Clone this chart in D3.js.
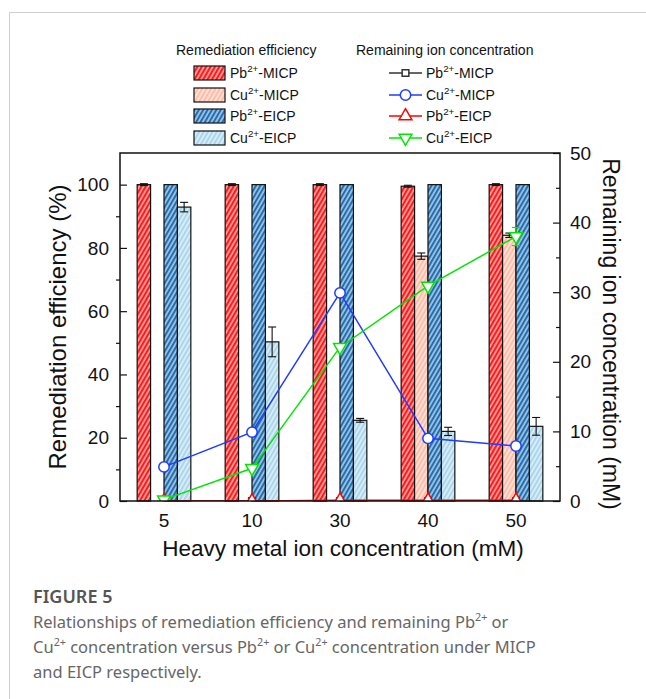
<!DOCTYPE html>
<html>
<head>
<meta charset="utf-8">
<script src="https://cdn.jsdelivr.net/npm/d3@7"></script>
<style>
  body { margin: 0; background: #fff; }
  svg { display: block; }
</style>
</head>
<body>
<svg id="chart" width="646" height="699"></svg>
<script>
// data
const categories = ["5", "10", "30", "40", "50"];
const barKeys = ["Pb-MICP", "Cu-MICP", "Pb-EICP", "Cu-EICP"];

// remediation efficiency (%), left axis
const effPbMICP = [100, 100, 100, 99.5, 100];
const effCuMICP = [null, null, null, 77.4, 84.0];
const effPbEICP = [100, 100, 100, 100, 100];
const effCuEICP = [92.9, 50.3, 25.5, 22.0, 23.6];
const errPbMICP = [0.3, 0.3, 0.3, 0.3, 0.3];
const errCuMICP = [0, 0, 0, 1.0, 0.7];
const errPbEICP = [0, 0, 0, 0, 0];
const errCuEICP = [1.5, 4.7, 0.6, 1.3, 2.8];

// remaining ion concentration (mM), right axis
const remPbMICP = [0, 0, 0, 0, 0];
const remCuMICP = [4.9, 9.9, 29.9, 9.0, 7.9];
const remPbEICP = [0, 0, 0.1, 0.1, 0.1];
const remCuEICP = [0.2, 4.7, 22.1, 30.9, 38.0];
const errRemCuEICP = [0, 0, 0, 0, 1.3];

const leftTicks = [0, 20, 40, 60, 80, 100];
const rightTicks = [0, 10, 20, 30, 40, 50];

const svg = d3.select("#chart");
const defs = svg.append("defs");

const plot = { left: 120, right: 560, top: 153, bottom: 501 };

const x = d3.scaleBand().domain(categories)
      .range([plot.left, plot.right])
      .paddingInner(0.39).paddingOuter(0.195);
const x1 = d3.scaleBand().domain(barKeys).range([0, x.bandwidth()]);
const yL = d3.scaleLinear().domain([0, 110]).range([plot.bottom, plot.top]);
const yR = d3.scaleLinear().domain([0, 50]).range([plot.bottom, plot.top]);
const xc = (c) => x(c) + x.bandwidth() / 2;

// hatch fills
const barColors = {
      "Pb-MICP": "#ff1a1a",
      "Cu-MICP": "#ffbca6",
      "Pb-EICP": "#1f6fb2",
      "Cu-EICP": "#a9d6ec"
};
function hatch(id, color) {
      const p = defs.append("pattern")
            .attr("id", id)
            .attr("patternUnits", "userSpaceOnUse")
            .attr("width", 3.8).attr("height", 10)
            .attr("patternTransform", "rotate(30)");
      p.append("rect").attr("width", 3.8).attr("height", 10).attr("fill", color);
      p.append("line").attr("x1", 1).attr("y1", 0).attr("x2", 1).attr("y2", 10)
            .attr("stroke", "#fff").attr("stroke-width", 1.1).attr("opacity", 0.95);
}
barKeys.forEach((k, i) => hatch("h" + i, barColors[k]));

const font = "Liberation Sans, Arial, sans-serif";

// card border
svg.append("path")
      .attr("d", "M646,12.5 H9.5 V699")
      .attr("fill", "none").attr("stroke", "#cfcfcf").attr("stroke-width", 1);

// bars
const barSeries = [
      { key: "Pb-MICP", vals: effPbMICP, errs: errPbMICP },
      { key: "Cu-MICP", vals: effCuMICP, errs: errCuMICP },
      { key: "Pb-EICP", vals: effPbEICP, errs: errPbEICP },
      { key: "Cu-EICP", vals: effCuEICP, errs: errCuEICP }
];
const barRows = [];
barSeries.forEach((s, si) => {
      categories.forEach((c, ci) => {
            if (s.vals[ci] != null) barRows.push({ c, key: s.key, si, v: s.vals[ci], e: s.errs[ci] });
      });
});

const gBars = svg.append("g");
gBars.selectAll("rect")
      .data(barRows)
      .enter()
      .append("rect")
      .attr("x", (d) => x(d.c) + x1(d.key))
      .attr("width", x1.bandwidth())
      .attr("y", (d) => yL(d.v))
      .attr("height", (d) => yL(0) - yL(d.v))
      .attr("fill", (d) => `url(#h${d.si})`)
      .attr("stroke", "#111")
      .attr("stroke-width", 1.2);

const gErr = svg.append("g").attr("stroke", "#111").attr("stroke-width", 1.1);
barRows.filter((d) => d.e > 0).forEach((d) => {
      const cx = x(d.c) + x1(d.key) + x1.bandwidth() / 2;
      const y1 = yL(d.v + d.e), y2 = yL(d.v - d.e);
      gErr.append("line").attr("x1", cx).attr("x2", cx).attr("y1", y1).attr("y2", y2);
      gErr.append("line").attr("x1", cx - 4).attr("x2", cx + 4).attr("y1", y1).attr("y2", y1);
      gErr.append("line").attr("x1", cx - 4).attr("x2", cx + 4).attr("y1", y2).attr("y2", y2);
});

// lines
defs.append("clipPath").attr("id", "plotClip")
      .append("rect")
      .attr("x", plot.left).attr("y", plot.top)
      .attr("width", plot.right - plot.left).attr("height", plot.bottom - plot.top);

const lineSeries = [
      { name: "Pb-MICP", vals: remPbMICP, color: "#333333", sym: d3.symbolSquare, size: 45, rot: 0 },
      { name: "Cu-MICP", vals: remCuMICP, color: "#1f3cff", sym: d3.symbolCircle, size: 85, rot: 0 },
      { name: "Pb-EICP", vals: remPbEICP, color: "#ff0000", sym: d3.symbolTriangle, size: 70, rot: 0 },
      { name: "Cu-EICP", vals: remCuEICP, color: "#00e600", sym: d3.symbolTriangle, size: 70, rot: 180 }
];

const gLines = svg.append("g").attr("clip-path", "url(#plotClip)");
const line = d3.line().x((d, i) => xc(categories[i])).y((d) => yR(d));

lineSeries.forEach((s) => {
      gLines.append("path")
            .datum(s.vals)
            .attr("d", line)
            .attr("fill", "none")
            .attr("stroke", s.color)
            .attr("stroke-width", 1.5);
});

// error bars on Cu-EICP remaining concentration
categories.forEach((c, i) => {
      const e = errRemCuEICP[i];
      if (!e) return;
      const cx = xc(c), v = remCuEICP[i];
      const g = gLines.append("g").attr("stroke", "#00e600").attr("stroke-width", 1.2);
      g.append("line").attr("x1", cx).attr("x2", cx).attr("y1", yR(v + e)).attr("y2", yR(v - e));
      g.append("line").attr("x1", cx - 4).attr("x2", cx + 4).attr("y1", yR(v + e)).attr("y2", yR(v + e));
      g.append("line").attr("x1", cx - 4).attr("x2", cx + 4).attr("y1", yR(v - e)).attr("y2", yR(v - e));
});

lineSeries.forEach((s) => {
      gLines.selectAll(null)
            .data(s.vals)
            .enter()
            .append("path")
            .attr("d", d3.symbol().type(s.sym).size(s.size))
            .attr("transform", (d, i) => `translate(${xc(categories[i])},${yR(d)}) rotate(${s.rot})`)
            .attr("fill", "#fff")
            .attr("stroke", s.color)
            .attr("stroke-width", 1.5);
});

// axes
const axisStyle = (g) => {
      g.select(".domain").remove();
      g.selectAll("line").attr("stroke", "#111").attr("stroke-width", 1.2);
      g.selectAll("text").attr("font-family", font).attr("font-size", 19).attr("fill", "#111");
};

svg.append("g")
      .attr("transform", `translate(${plot.left},0)`)
      .call(d3.axisLeft(yL).tickValues(leftTicks).tickSizeInner(-7).tickSizeOuter(0).tickPadding(11))
      .call(axisStyle);
svg.append("g")
      .attr("transform", `translate(${plot.left},0)`)
      .call(d3.axisLeft(yL).tickValues([10, 30, 50, 70, 90]).tickSize(4).tickFormat(""))
      .call(axisStyle);

svg.append("g")
      .attr("transform", `translate(${plot.right},0)`)
      .call(d3.axisRight(yR).tickValues(rightTicks).tickSizeInner(-7).tickSizeOuter(0).tickPadding(10))
      .call(axisStyle);
svg.append("g")
      .attr("transform", `translate(${plot.right},0)`)
      .call(d3.axisRight(yR).tickValues([5, 15, 25, 35, 45]).tickSize(-4).tickFormat(""))
      .call(axisStyle);

svg.append("g")
      .attr("transform", `translate(0,${plot.bottom})`)
      .call(d3.axisBottom(x).tickSize(0).tickPadding(13))
      .call(axisStyle);

svg.append("rect")
      .attr("x", plot.left).attr("y", plot.top)
      .attr("width", plot.right - plot.left).attr("height", plot.bottom - plot.top)
      .attr("fill", "none").attr("stroke", "#111").attr("stroke-width", 1.5);

// axis titles
svg.append("text")
      .attr("transform", `translate(66,${(plot.top + plot.bottom) / 2}) rotate(-90)`)
      .attr("text-anchor", "middle")
      .attr("font-family", font).attr("font-size", 24).attr("fill", "#111")
      .text("Remediation efficiency (%)");

svg.append("text")
      .attr("transform", `translate(603,334) rotate(90)`)
      .attr("text-anchor", "middle")
      .attr("font-family", font).attr("font-size", 23).attr("fill", "#111")
      .text("Remaining ion concentration (mM)");

svg.append("text")
      .attr("x", (plot.left + plot.right) / 2 + 3).attr("y", 556)
      .attr("text-anchor", "middle")
      .attr("font-family", font).attr("font-size", 22.5).attr("fill", "#111")
      .text("Heavy metal ion concentration (mM)");

// legend
function ionLabel(sel, ion, method, size) {
      sel.append("tspan").text(ion);
      sel.append("tspan").attr("dy", -size * 0.42).attr("font-size", size * 0.7).text("2+");
      sel.append("tspan").attr("dy", size * 0.42).text("-" + method);
}
const legendNames = [["Pb", "MICP"], ["Cu", "MICP"], ["Pb", "EICP"], ["Cu", "EICP"]];
const legendRowY = [73, 95, 116, 138];

svg.append("text")
      .attr("x", 176).attr("y", 55)
      .attr("font-family", font).attr("font-size", 14).attr("fill", "#111")
      .text("Remediation efficiency");
svg.append("text")
      .attr("x", 356).attr("y", 55)
      .attr("font-family", font).attr("font-size", 14).attr("fill", "#111")
      .text("Remaining ion concentration");

const gLeg = svg.append("g");
legendNames.forEach((n, i) => {
      const cy = legendRowY[i];
      gLeg.append("rect")
            .attr("x", 194).attr("y", cy - 7)
            .attr("width", 31).attr("height", 14)
            .attr("fill", `url(#h${i})`)
            .attr("stroke", "#111").attr("stroke-width", 1.2);
      ionLabel(gLeg.append("text")
            .attr("x", 230).attr("y", cy + 5)
            .attr("font-family", font).attr("font-size", 14).attr("fill", "#111"), n[0], n[1], 14);

      const s = lineSeries[i];
      gLeg.append("line")
            .attr("x1", 389).attr("x2", 422).attr("y1", cy).attr("y2", cy)
            .attr("stroke", s.color).attr("stroke-width", 1.5);
      gLeg.append("path")
            .attr("d", d3.symbol().type(s.sym).size(s.size))
            .attr("transform", `translate(405.5,${cy}) rotate(${s.rot})`)
            .attr("fill", "#fff").attr("stroke", s.color).attr("stroke-width", 1.5);
      ionLabel(gLeg.append("text")
            .attr("x", 426).attr("y", cy + 5)
            .attr("font-family", font).attr("font-size", 14).attr("fill", "#111"), n[0], n[1], 14);
});

// caption
const capFont = "Noto Sans, Open Sans, sans-serif";
svg.append("text")
      .attr("x", 33).attr("y", 603)
      .attr("font-family", capFont).attr("font-size", 18).attr("font-weight", 600).attr("fill", "#555")
      .text("FIGURE 5");

function supText(parent, pieces, xPos, yPos, size) {
      const t = parent.append("text")
            .attr("x", xPos).attr("y", yPos)
            .attr("font-family", capFont).attr("font-size", size).attr("fill", "#666");
      let raised = false;
      pieces.forEach((p) => {
            if (typeof p === "object") {
                  t.append("tspan").attr("dy", -size * 0.4).attr("font-size", size * 0.65).text(p.s);
                  raised = true;
            } else {
                  const sp = t.append("tspan").text(p);
                  if (raised) sp.attr("dy", size * 0.4);
                  raised = false;
            }
      });
      return t;
}
const capLines = [
      ["Relationships of remediation efficiency and remaining Pb", { s: "2+" }, " or"],
      ["Cu", { s: "2+" }, " concentration versus Pb", { s: "2+" }, " or Cu", { s: "2+" }, " concentration under MICP"],
      ["and EICP respectively."]
];
const capY = [628, 653, 678];
capLines.forEach((l, i) => supText(svg, l, 33, capY[i], 16.5));
</script>
</body>
</html>
